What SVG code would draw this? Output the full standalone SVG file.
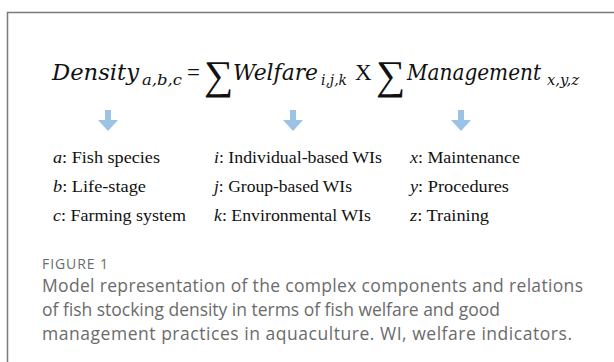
<svg xmlns="http://www.w3.org/2000/svg" width="614" height="362" viewBox="0 0 614 362">
<style>
.f{font-family:"DejaVu Serif","Liberation Serif",serif;fill:#111}
.l{font-family:"Liberation Serif","DejaVu Serif",serif;fill:#111}
.fi{font-style:italic}
.eq{font-size:23px}
.sub{font-size:15px}
.lst{font-size:17px}
.cap{font-family:"Open Sans","Liberation Sans",sans-serif;fill:#6b6b6b}
.arr{fill:#9cc2e6}
</style>
<defs>
<path id="arrow" d="M-3,0 H3 V10 H10 L0,21 L-10,10 H-3 Z"/>
</defs>
<rect x="7.5" y="12.5" width="620" height="360" fill="none" stroke="#7a7a7a" stroke-width="1.5"/>
<g id="formula">
<text class="f fi eq" x="52" y="80" textLength="87" lengthAdjust="spacingAndGlyphs">Density</text>
<text class="f fi sub" x="142" y="85" textLength="40" lengthAdjust="spacingAndGlyphs">a,b,c</text>
<text class="l eq" x="187" y="80" font-size="25">=</text>
<text class="l" x="204" y="89" font-size="41">∑</text>
<text class="f fi eq" x="233" y="80" textLength="85" lengthAdjust="spacingAndGlyphs">Welfare</text>
<text class="f fi sub" x="321" y="85" textLength="26" lengthAdjust="spacingAndGlyphs">i,j,k</text>
<text class="l eq" x="355" y="80" font-size="24">X</text>
<text class="l" x="376" y="89" font-size="41">∑</text>
<text class="f fi" x="407" y="80" font-size="21.5" textLength="134" lengthAdjust="spacingAndGlyphs">Management</text>
<text class="f fi sub" x="547" y="85" textLength="32" lengthAdjust="spacingAndGlyphs">x,y,z</text>
</g>
<g id="connectors">
<use href="#arrow" class="arr" x="108" y="110"/>
<use href="#arrow" class="arr" x="293" y="110"/>
<use href="#arrow" class="arr" x="461" y="110"/>
</g>
<g id="col1" class="l lst">
<text x="53" y="163" textLength="107" lengthAdjust="spacingAndGlyphs"><tspan class="fi">a</tspan>: Fish species</text>
<text x="53" y="192" textLength="93" lengthAdjust="spacingAndGlyphs"><tspan class="fi">b</tspan>: Life-stage</text>
<text x="53" y="221" textLength="133" lengthAdjust="spacingAndGlyphs"><tspan class="fi">c</tspan>: Farming system</text>
</g>
<g id="col2" class="l lst">
<text x="214" y="163" textLength="168" lengthAdjust="spacingAndGlyphs"><tspan class="fi">i</tspan>: Individual-based WIs</text>
<text x="214" y="192" textLength="138" lengthAdjust="spacingAndGlyphs"><tspan class="fi">j</tspan>: Group-based WIs</text>
<text x="214" y="221" textLength="157" lengthAdjust="spacingAndGlyphs"><tspan class="fi">k</tspan>: Environmental WIs</text>
</g>
<g id="col3" class="l lst">
<text x="410" y="163" textLength="110" lengthAdjust="spacingAndGlyphs"><tspan class="fi">x</tspan>: Maintenance</text>
<text x="410" y="192" textLength="99" lengthAdjust="spacingAndGlyphs"><tspan class="fi">y</tspan>: Procedures</text>
<text x="410" y="221" textLength="79" lengthAdjust="spacingAndGlyphs"><tspan class="fi">z</tspan>: Training</text>
</g>
<g id="caption" class="cap">
<text x="42" y="269" font-size="14" textLength="66">FIGURE 1</text>
<text x="42" y="292" font-size="17.5" textLength="541">Model representation of the complex components and relations</text>
<text x="42" y="316" font-size="17.5" textLength="458">of fish stocking density in terms of fish welfare and good</text>
<text x="42" y="340" font-size="17.5" textLength="530">management practices in aquaculture. WI, welfare indicators.</text>
</g>
</svg>
